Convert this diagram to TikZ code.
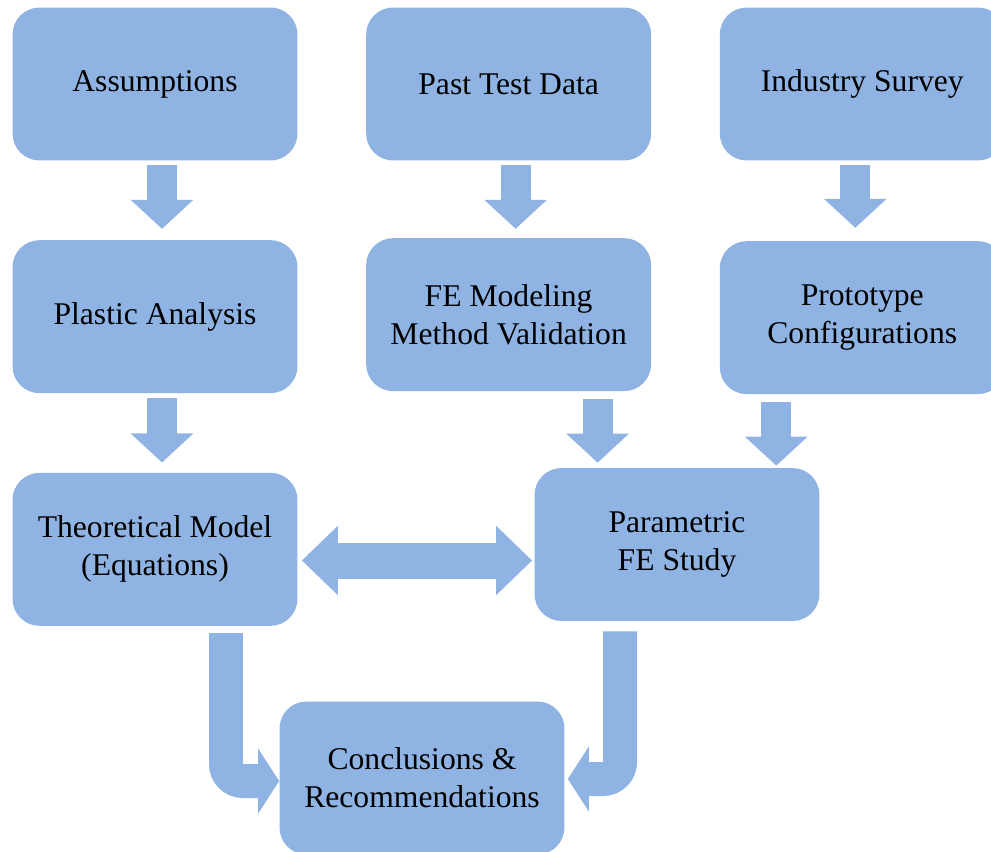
\documentclass[tikz,border=0pt]{standalone}
\usepackage{fontspec}
\setmainfont{Liberation Serif}
\usepackage{xcolor}
\definecolor{boxblue}{RGB}{143,179,226}
\usepackage{tikz}
\usetikzlibrary{arrows.meta,positioning,calc}
\tikzset{
  stage/.style={rectangle,rounded corners=0.54cm,
    fill=boxblue,draw=none,
    minimum width=5.7cm,minimum height=3.06cm,
    align=center,inner sep=0pt,
    font=\fontsize{18}{21.6}\selectfont},
  flow/.style={draw=boxblue,line width=0.6cm,
    -{Triangle[width=1.22cm,length=0.58cm]}},
  elbow/.style={draw=boxblue,line width=0.68cm,rounded corners=0.34cm,
    -{Triangle[width=1.28cm,length=0.42cm]}},
  twoway/.style={draw=boxblue,line width=0.72cm,
    {Triangle[width=1.34cm,length=0.72cm]}-{Triangle[width=1.34cm,length=0.72cm]}},
}

\begin{document}
\begin{tikzpicture}[x=0.02cm,y=-0.02cm]
  \useasboundingbox (0,0) rectangle (991,852);
  % top row
  \node (as) [stage] at (155,84) {Assumptions};
  \node (pt) [stage, right=1.36cm of as] {Past Test Data};
  \node (is) [stage, right=1.36cm of pt] {Industry Survey};
  % second row
  \node (pl) [stage, below=1.58cm of as] {Plastic Analysis};
  \node (fe) [stage, below=1.54cm of pt] {FE Modeling\\ Method Validation};
  \node (pc) [stage, below=1.6cm of is] {Prototype\\ Configurations};
  % third row
  \node (th) [stage, below=1.58cm of pl] {Theoretical Model\\ (Equations)};
  \node (par) [stage] at (677,544.5) {Parametric\\ FE Study};
  % result
  \node (concl) [stage] at (422,778) {Conclusions \&\\ Recommendations};

  \draw[flow] ([shift={(7,4)}]as.south) -- ([shift={(7,-11)}]pl.north);
  \draw[flow] ([shift={(7,4)}]pt.south) -- ([shift={(7,-9)}]fe.north);
  \draw[flow] ([shift={(-7,4)}]is.south) -- ([shift={(-7,-13)}]pc.north);
  \draw[flow] ([shift={(7,5)}]pl.south) -- ([shift={(7,-10)}]th.north);
  \draw[flow] ([shift={(89,8)}]fe.south) coordinate (f1)
    -- ([yshift=0.1cm]f1 |- par.north);
  \draw[flow] ([shift={(-86,8)}]pc.south) coordinate (f2)
    -- ([yshift=0.04cm]f2 |- par.north);
  \draw[twoway] ([shift={(4,16)}]th.east |- par.west) coordinate (f3)
    -- ([xshift=-0.04cm]f3 -| par.west);
  \draw[elbow] ([shift={(71,7)}]th.south) |- ([shift={(0,3)}]concl.west);
  \draw[elbow] ([shift={(-57,10)}]par.south) |- ([shift={(3,1)}]concl.east);
\end{tikzpicture}
\end{document}
